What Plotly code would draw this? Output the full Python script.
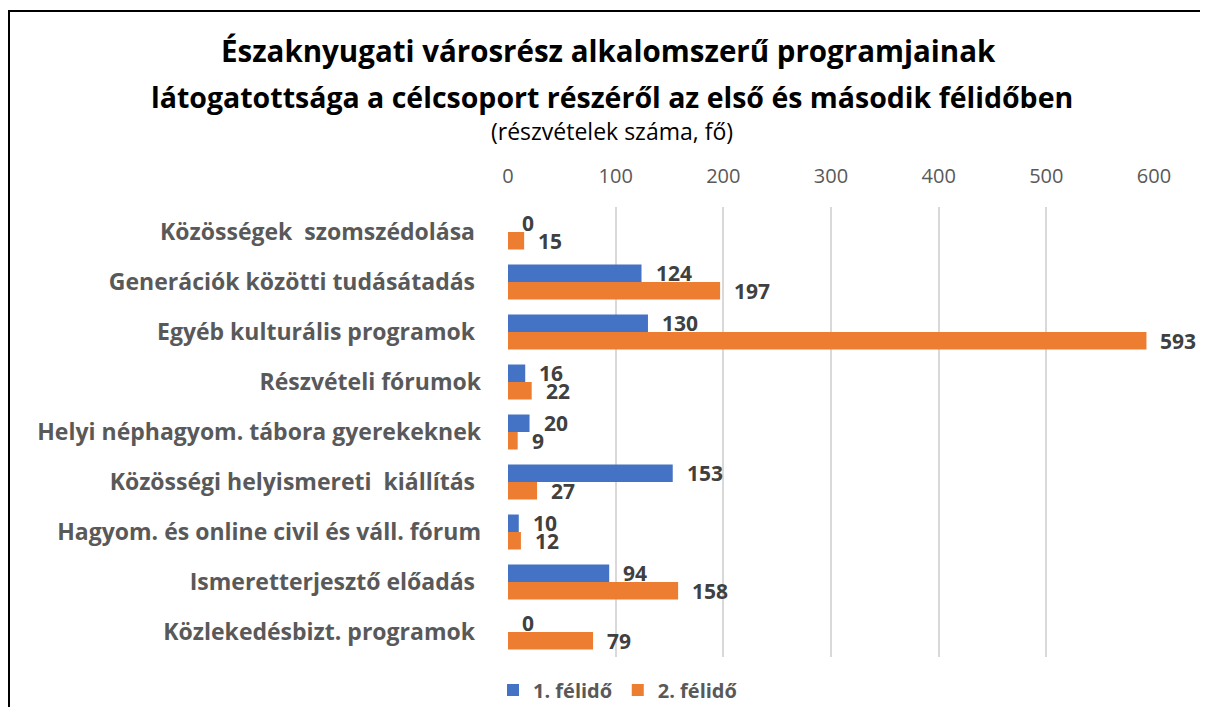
import plotly.graph_objects as go

categories = [
    "Közösségek  szomszédolása\u00a0",
    "Generációk közötti tudásátadás\u00a0",
    "Egyéb kulturális programok\u00a0",
    "Részvételi fórumok",
    "Helyi néphagyom. tábora gyerekeknek",
    "Közösségi helyismereti  kiállítás\u00a0",
    "Hagyom. és online civil és váll. fórum",
    "Ismeretterjesztő előadás\u00a0",
    "Közlekedésbizt. programok\u00a0",
]
series_names = ["1. félidő", "2. félidő"]
half1 = [0, 124, 130, 16, 20, 153, 10, 94, 0]
half2 = [15, 197, 593, 22, 9, 27, 12, 158, 79]
x_ticks = [0, 100, 200, 300, 400, 500, 600]

title_lines = [
    "Északnyugati városrész alkalomszerű programjainak",
    "látogatottsága a célcsoport részéről az első és második félidőben",
]
subtitle = "(részvételek száma, fő)"

FONT = "Open Sans"
colors = ["#4472C4", "#ED7D31"]

fig = go.Figure()
for name, vals, col in zip(series_names, [half1, half2], colors):
    fig.add_trace(go.Bar(
        y=categories, x=vals, name=name, orientation="h",
        marker=dict(color=col, line=dict(width=0)),
        hoverinfo="x+y+name",
    ))

annotations = []
for vals, ys in ((half1, -9), (half2, 9)):
    for c, v in zip(categories, vals):
        annotations.append(dict(
            x=v, y=c, xref="x", yref="y", text=str(v), showarrow=False,
            xanchor="left", yanchor="middle", xshift=12, yshift=-ys,
            font=dict(family=FONT, size=21, color="#404040", weight="bold"),
        ))

# figure is placed at page offset (8, 8) by the default body margin
OFF = 8
W, H = 1200, 699
L, R, T, B = 500, 54, 199, 50
pw, ph = W - L - R, H - T - B

def px(xp):
    return (xp - OFF - L) / pw

def py(yp):
    return (H - B - (yp - OFF)) / ph

annotations.append(dict(x=px(608), y=py(50), xref="paper", yref="paper",
                        text="<b>" + title_lines[0] + "</b>", showarrow=False,
                        xanchor="center", yanchor="middle",
                        font=dict(family=FONT, size=29.5, color="#000000")))
annotations.append(dict(x=px(612), y=py(97), xref="paper", yref="paper",
                        text="<b>" + title_lines[1] + "</b>", showarrow=False,
                        xanchor="center", yanchor="middle",
                        font=dict(family=FONT, size=28.5, color="#000000")))
annotations.append(dict(x=px(612), y=py(131), xref="paper", yref="paper",
                        text=subtitle, showarrow=False,
                        xanchor="center", yanchor="middle",
                        font=dict(family=FONT, size=23, color="#000000")))

fig.update_layout(
    width=W, height=H,
    margin=dict(l=L, r=R, t=T, b=B, autoexpand=False),
    paper_bgcolor="white", plot_bgcolor="white",
    barmode="group", bargap=0.3, bargroupgap=0,
    showlegend=True,
    legend=dict(orientation="h", x=px(618), y=py(690), xanchor="center", yanchor="middle",
                font=dict(family=FONT, size=20, color="#595959", weight="bold"),
                traceorder="normal", itemwidth=30),
    annotations=annotations,
    shapes=[dict(type="rect", xref="paper", yref="paper",
                 x0=px(9), x1=px(1240), y0=py(740), y1=py(11),
                 line=dict(color="#000000", width=2), fillcolor="rgba(0,0,0,0)", layer="above")],
)
fig.update_xaxes(
    side="top", range=[0, 600], tickvals=x_ticks, ticktext=[str(t) for t in x_ticks],
    showgrid=True, gridcolor="#D9D9D9", gridwidth=2, zeroline=False,
    showline=False, ticks="", ticklabelstandoff=19,
    tickfont=dict(family=FONT, size=20, color="#595959"),
    fixedrange=True,
)
fig.update_yaxes(
    autorange="reversed", showgrid=False, zeroline=False, ticks="",
    showline=False, ticklabelstandoff=26,
    tickfont=dict(family=FONT, size=23, color="#595959", weight="bold"),
)

fig.write_html("out.html")
